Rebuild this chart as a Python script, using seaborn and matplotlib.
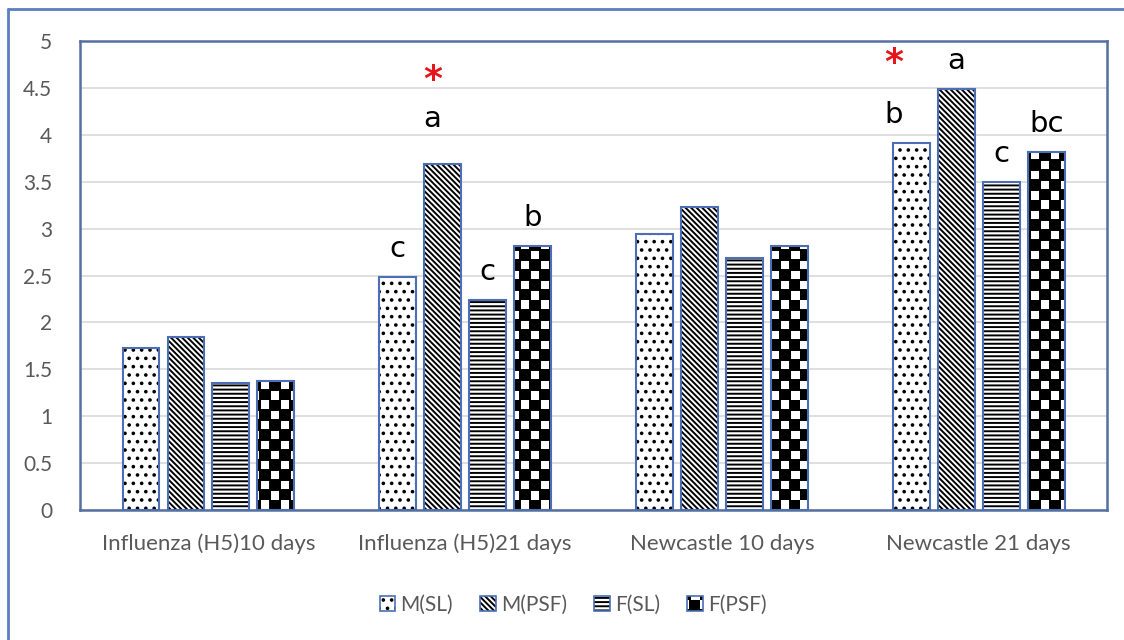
import matplotlib
matplotlib.use("Agg")
import matplotlib.pyplot as plt
import matplotlib.hatch as mhatch
from matplotlib.path import Path
from matplotlib.patches import Patch
from matplotlib.lines import Line2D
import seaborn as sns
import pandas as pd
import numpy as np

# ---- data ----
groups = ["Influenza (H5)10 days", "Influenza (H5)21 days",
          "Newcastle 10 days", "Newcastle 21 days"]
series = ["M(SL)", "M(PSF)", "F(SL)", "F(PSF)"]
m_sl = [1.73, 2.48, 2.94, 3.91]
m_psf = [1.84, 3.69, 3.23, 4.49]
f_sl = [1.35, 2.24, 2.69, 3.50]
f_psf = [1.38, 2.81, 2.81, 3.82]
yticks = [0, 0.5, 1, 1.5, 2, 2.5, 3, 3.5, 4, 4.5, 5]

# significance letters (group index, series index, letter)
letters = [(1, 0, "c"), (1, 1, "a"), (1, 2, "c"), (1, 3, "b"),
           (3, 0, "b"), (3, 1, "a"), (3, 2, "c"), (3, 3, "bc")]
# red asterisks (group index, series index, y)
stars = [(1, 1, 4.58), (3, 0, 4.76)]


# checkerboard hatch, registered in place of the '*' star hatch
class CheckerHatch(mhatch.HatchPatternBase):
    def __init__(self, hatch, density):
        self.n = 10 if "*" in hatch else 0
        self.num_vertices = (self.n * self.n // 2) * 5

    def set_vertices_and_codes(self, vertices, codes):
        s = 1.0 / self.n
        k = 0
        for i in range(self.n):
            for j in range(self.n):
                if (i + j) % 2 == 0:
                    x, y = i * s, j * s
                    vertices[k:k + 5] = [[x, y], [x + s, y], [x + s, y + s],
                                         [x, y + s], [x, y]]
                    codes[k:k + 5] = [Path.MOVETO, Path.LINETO, Path.LINETO,
                                      Path.LINETO, Path.CLOSEPOLY]
                    k += 5


mhatch._hatch_types = [t for t in mhatch._hatch_types
                       if t is not mhatch.Stars] + [CheckerHatch]

hatches = ["..", "\\" * 6, "----", "*"]

df = pd.DataFrame({
    "group": np.repeat(groups, len(series)),
    "series": series * len(groups),
    "value": np.array([m_sl, m_psf, f_sl, f_psf]).T.flatten(),
})

sns.set_style("white")
plt.rcParams["font.family"] = ["Lato", "DejaVu Sans"]
plt.rcParams["hatch.linewidth"] = 1.4

edge = "#4a6fb5"
grey = "#595959"

fig = plt.figure(figsize=(11.24, 6.4), dpi=100)
ax = fig.add_axes([0.0712, 0.203, 0.9138, 0.733])

sns.barplot(data=df, x="group", y="value", hue="series", order=groups,
            hue_order=series, palette=["white"] * 4, width=0.7, gap=0.18,
            edgecolor=edge, linewidth=1.5, legend=False, ax=ax, zorder=3)

for cont, h in zip(ax.containers, hatches):
    for p in cont.patches:
        p.set_hatch(h)
        p._hatch_color = (0, 0, 0, 1)

ax.set_ylim(0, 5)
ax.set_xlim(-0.5, 3.5)
ax.set_yticks(yticks)
ax.set_yticklabels([f"{v:g}" for v in yticks])
ax.yaxis.grid(True, color="#d9d9d9", linewidth=1.2, zorder=0)
ax.set_axisbelow(True)
ax.tick_params(axis="both", length=0, labelsize=15, labelcolor=grey)
ax.tick_params(axis="x", pad=17, labelsize=16)
ax.tick_params(axis="y", pad=20)
ax.set_xlabel("")
ax.set_ylabel("")
for sp in ax.spines.values():
    sp.set_color("#5470a0")
    sp.set_linewidth(1.8)

# letters and asterisks
nudge = {(3, 0): -0.07, (1, 1): -0.04}
lift = {(1, 1): 0.18}
for g, s, txt in letters:
    p = ax.containers[s].patches[g]
    cx = p.get_x() + p.get_width() / 2 + nudge.get((g, s), 0)
    ax.text(cx, p.get_height() + 0.15 + lift.get((g, s), 0), txt,
            ha="center", va="bottom", fontsize=21, color="black",
            family="DejaVu Sans")
for g, s, y in stars:
    p = ax.containers[s].patches[g]
    cx = p.get_x() + p.get_width() / 2 + nudge.get((g, s), 0)
    ax.text(cx, y, "*", ha="center", va="center", fontsize=26,
            color="#e8141b", family="DejaVu Sans", fontweight="bold")

# legend
handles = [Patch(facecolor="white", edgecolor=edge, hatch=h, linewidth=1.2)
           for h in hatches]
for hd in handles:
    hd._hatch_color = (0, 0, 0, 1)
leg = fig.legend(handles, series, loc="center", bbox_to_anchor=(0.51, 0.055),
                 ncol=4, frameon=False, fontsize=15, handlelength=0.75,
                 handleheight=0.75, handletextpad=0.25, columnspacing=1.3)
for t in leg.get_texts():
    t.set_color(grey)

# outer chart frame (left and top edges visible)
fig.add_artist(Line2D([0.0071, 0.0071], [0, 0.986], color="#5b7fc0",
                      linewidth=2, transform=fig.transFigure))
fig.add_artist(Line2D([0.0071, 1.0], [0.986, 0.986], color="#5b7fc0",
                      linewidth=2, transform=fig.transFigure))

fig.savefig("out.png", dpi=100, facecolor="white")
